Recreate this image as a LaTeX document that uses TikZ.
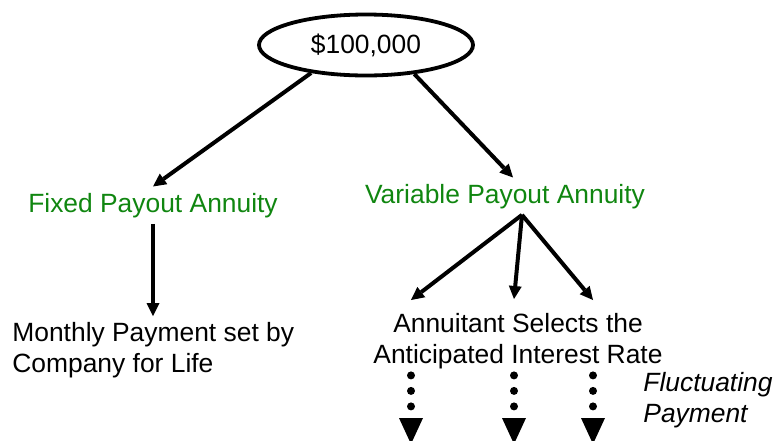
\documentclass[tikz,border=0pt]{standalone}
\usepackage{fontspec}
\setmainfont{Liberation Sans}
\usepackage{xcolor}
\usetikzlibrary{shapes,arrows.meta,calc}
\definecolor{payoutgreen}{RGB}{16,134,16}

\begin{document}
\begin{tikzpicture}[x=0.5pt,y=-0.5pt,
font=\fontsize{13.2}{15.5}\selectfont,
amount/.style={
% The shape:
ellipse,
minimum width=107pt,minimum height=30.5pt,
% The rest
line width=1.9pt,draw=black},
label/.style={inner sep=3pt},
kind/.style={label,text=payoutgreen},
arr/.style={line width=2pt,-{Triangle[length=6.5pt,width=6.5pt,line width=0pt]}},
dotarr/.style={line width=4pt,line cap=round,dash pattern=on 0pt off 7.75pt,
  -{Triangle[length=13pt,width=12pt,line width=0pt]}}]

\useasboundingbox (0,0) rectangle (778,440);

\node (Root) [amount] at (366,45) {\$100,000};
\node (Fixed) [kind,anchor=base] at (153,212) {Fixed Payout Annuity};
\node (Variable) [kind,anchor=base] at (505,203) {Variable Payout Annuity};
\node (Monthly) [label,anchor=north west,align=left] at (6,316)
  {Monthly Payment set by\\Company for Life};
\node (Select) [label,anchor=north,align=center] at (518,307)
  {Annuitant Selects the\\Anticipated Interest Rate};
\node (Fluct) [label,anchor=north west,align=left,font=\fontsize{13.2}{15.5}\selectfont\itshape]
  at (637,366) {Fluctuating\\Payment};

\coordinate (Fork) at ([xshift=8.5pt]Variable.south);
\coordinate (RateA) at (411,300);
\coordinate (RateB) at (514,299);
\coordinate (RateC) at (593,300);
\coordinate (PayA) at (411,444);
\coordinate (PayB) at (514,444);
\coordinate (PayC) at (593,444);

\path
(Root.207) edge[arr] (Fixed.north) % simple edges
(Root.329) edge[arr] ([xshift=4pt]Variable.north)
(Fixed.south) edge[arr] (Fixed.south |- Monthly.north)
(Fork) edge[arr] (RateA)
(Fork) edge[arr] (RateB)
(Fork) edge[arr] (RateC);

% payments
\path
(PayA |- Select.south) edge[dotarr] (PayA)
(PayB |- Select.south) edge[dotarr] (PayB)
(PayC |- Select.south) edge[dotarr] (PayC);

\end{tikzpicture}
\end{document}
